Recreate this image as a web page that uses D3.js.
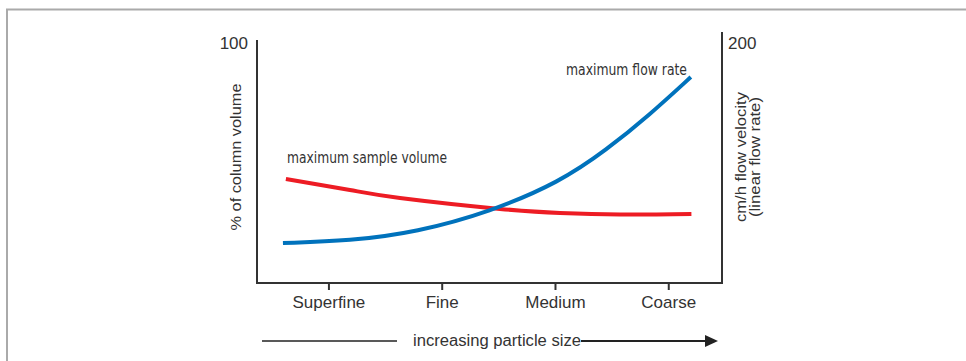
<!DOCTYPE html>
<html><head><meta charset="utf-8">
<script src="https://cdn.jsdelivr.net/npm/d3@7"></script>
<style>
html,body{margin:0;padding:0;background:#fff;}
svg{display:block;}
text{fill:#333;}
</style></head>
<body><svg id="c" width="966" height="361"></svg>
<script>
// Data
const categories = ["Superfine", "Fine", "Medium", "Coarse"];
const leftTicks = [100];
const rightTicks = [200];
// red: maximum sample volume (% of column volume), x in category units
const sampleX = [-0.38, 0.185, 0.627, 1.51, 2.04, 2.57, 3.20];
const sampleY = [42.8, 38.3, 35.0, 30.5, 28.8, 28.2, 28.4];
// blue: maximum flow rate (cm/h)
const flowX = [-0.406, 0.185, 0.777, 1.42, 2.04, 2.45, 2.83, 3.195];
const flowY = [31.9, 33.5, 40.6, 56.6, 80.5, 106.0, 133.9, 164.1];

const svg = d3.select("#c");
const fontMain = "'Liberation Sans', Arial, sans-serif";
const fontNarrow = "'Liberation Sans Narrow', 'DejaVu Sans Condensed', sans-serif";

// frame
svg.append("path").attr("d", "M7,361 V9.5 H966").attr("fill", "none")
  .attr("stroke", "#aaa").attr("stroke-width", 2);

const x = d3.scaleLinear().domain([-0.635, 3.47]).range([257, 722]);
const yL = d3.scaleLinear().domain([0, 100]).range([283, 40]);
const yR = d3.scaleLinear().domain([0, 200]).range([283, 32]);

const axisColor = "#333";
svg.append("line").attr("x1", x.range()[0]).attr("x2", x.range()[0]).attr("y1", yL(100)).attr("y2", yL(0) + 1)
  .attr("stroke", axisColor).attr("stroke-width", 2);
svg.append("line").attr("x1", x.range()[1]).attr("x2", x.range()[1]).attr("y1", yR(200)).attr("y2", yR(0) + 1)
  .attr("stroke", axisColor).attr("stroke-width", 2);
svg.append("line").attr("x1", x.range()[0] - 1).attr("x2", x.range()[1] + 1).attr("y1", yL(0)).attr("y2", yL(0))
  .attr("stroke", axisColor).attr("stroke-width", 2);

// x ticks
const xt = svg.append("g");
categories.forEach((c, i) => {
  xt.append("line").attr("x1", x(i)).attr("x2", x(i)).attr("y1", yL(0)).attr("y2", yL(0) + 7)
    .attr("stroke", axisColor).attr("stroke-width", 2);
  xt.append("text").attr("x", x(i)).attr("y", 308).attr("text-anchor", "middle")
    .style("font-family", fontMain).style("font-size", "17px").text(c);
});

// y tick labels
leftTicks.forEach(t => svg.append("text").attr("x", 248).attr("y", 49)
  .attr("text-anchor", "end").style("font-family", fontMain).style("font-size", "17px").text(t));
rightTicks.forEach(t => svg.append("text").attr("x", 728).attr("y", 49)
  .attr("text-anchor", "start").style("font-family", fontMain).style("font-size", "17px").text(t));

// axis titles
svg.append("text").attr("transform", "translate(241,157) rotate(-90)").attr("text-anchor", "middle")
  .attr("textLength", 147).attr("lengthAdjust", "spacingAndGlyphs")
  .style("font-family", fontMain).style("font-size", "15px").text("% of column volume");
svg.append("text").attr("transform", "translate(746,157) rotate(-90)").attr("text-anchor", "middle")
  .attr("textLength", 130).attr("lengthAdjust", "spacingAndGlyphs")
  .style("font-family", fontMain).style("font-size", "15px").text("cm/h flow velocity");
svg.append("text").attr("transform", "translate(760,157) rotate(-90)").attr("text-anchor", "middle")
  .attr("textLength", 120).attr("lengthAdjust", "spacingAndGlyphs")
  .style("font-family", fontMain).style("font-size", "15px").text("(linear flow rate)");

// curves
const lineL = d3.line().x(d => x(d[0])).y(d => yL(d[1])).curve(d3.curveNatural);
const lineR = d3.line().x(d => x(d[0])).y(d => yR(d[1])).curve(d3.curveBasis);
svg.append("path").attr("d", lineL(d3.zip(sampleX, sampleY))).attr("fill", "none")
  .attr("stroke", "#ed1c24").attr("stroke-width", 4);
svg.append("path").attr("d", lineR(d3.zip(flowX, flowY))).attr("fill", "none")
  .attr("stroke", "#0072bc").attr("stroke-width", 4);

// curve labels
svg.append("text").attr("x", 287).attr("y", 163).attr("textLength", 160).attr("lengthAdjust", "spacingAndGlyphs")
  .style("font-family", fontNarrow).style("font-size", "15px").text("maximum sample volume");
svg.append("text").attr("x", 566).attr("y", 75).attr("textLength", 121).attr("lengthAdjust", "spacingAndGlyphs")
  .style("font-family", fontNarrow).style("font-size", "15px").text("maximum flow rate");

// bottom arrow
const ay = 341;
svg.append("line").attr("x1", 262).attr("x2", 397).attr("y1", ay).attr("y2", ay).attr("stroke", "#222").attr("stroke-width", 1.5);
svg.append("text").attr("x", 413).attr("y", 346).attr("textLength", 168).attr("lengthAdjust", "spacingAndGlyphs")
  .style("font-family", fontMain).style("font-size", "16px").text("increasing particle size");
svg.append("line").attr("x1", 581).attr("x2", 706).attr("y1", ay).attr("y2", ay).attr("stroke", "#222").attr("stroke-width", 2);
svg.append("path").attr("d", `M705,${ay - 6} L718,${ay} L705,${ay + 6} Z`).attr("fill", "#222");
</script></body></html>
